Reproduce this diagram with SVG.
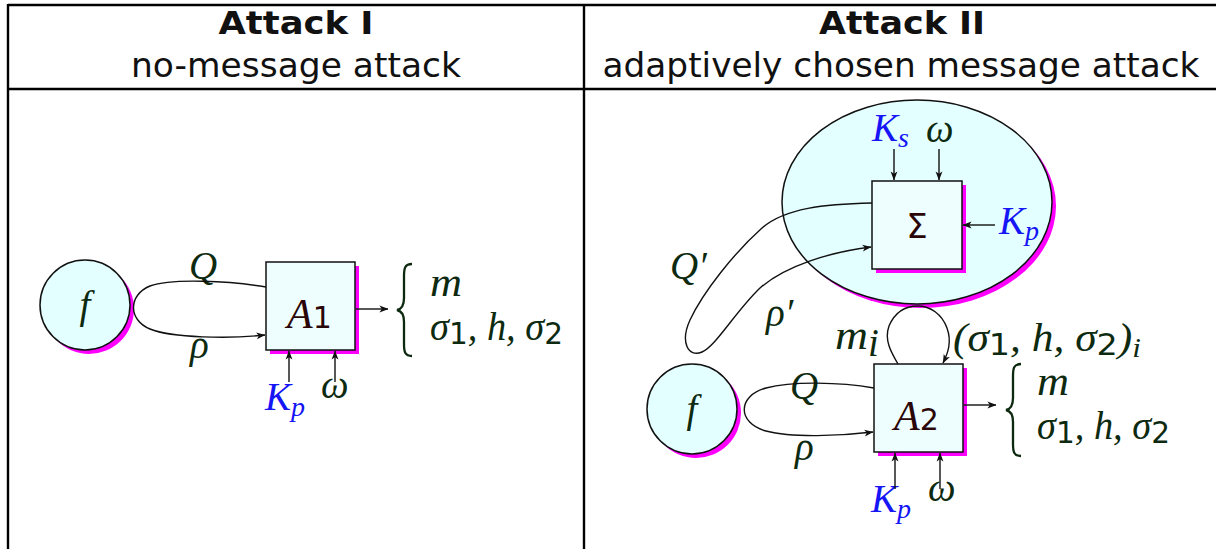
<svg xmlns="http://www.w3.org/2000/svg" width="1216" height="549" viewBox="0 0 1216 549">
  <defs>
    <marker id="arr" viewBox="0 0 10 10" refX="9.5" refY="5" markerWidth="9" markerHeight="9" markerUnits="userSpaceOnUse" orient="auto">
      <path d="M0,1.2 L10,5 L0,8.8 L2.6,5 Z" fill="#111"/>
    </marker>
  </defs>
  <style>
    .grid { stroke: #000; stroke-width: 2.4; fill: none; }
    .hdr { font-family: "DejaVu Sans", "Liberation Sans", sans-serif; fill: #111; }
    .hdrb { font-weight: bold; }
    .shadow { fill: #ff00ff; }
    .node { fill: #e4ffff; stroke: #111; stroke-width: 1.5; }
    .box { fill: #eefefe; stroke: #111; stroke-width: 1.5; }
    .wire { fill: none; stroke: #111; stroke-width: 1.4; }
    .m { font-family: "Liberation Serif", "DejaVu Serif", serif; font-style: italic; fill: #0d2a10; font-size: 39px; }
    .blue { fill: #1515f5; }
    .op { font-family: "Liberation Serif", "DejaVu Serif", serif; font-style: italic; fill: #2a0608; font-size: 42px; }
    .d { font-family: "DejaVu Sans", "Liberation Sans", sans-serif; font-style: normal; }
    .brace { fill: none; stroke: #0d2a10; stroke-width: 2.3; }
  </style>

  <!-- table frame -->
  <g id="table">
    <line class="grid" x1="8" y1="5" x2="1216" y2="5"/>
    <line class="grid" x1="8" y1="89" x2="1216" y2="89"/>
    <line class="grid" x1="8" y1="4" x2="8" y2="549"/>
    <line class="grid" x1="584" y1="4" x2="584" y2="549"/>
    <text class="hdr hdrb" x="296" y="34" font-size="32" text-anchor="middle" textLength="155" lengthAdjust="spacingAndGlyphs">Attack I</text>
    <text class="hdr" x="296" y="77" font-size="33" text-anchor="middle" textLength="330" lengthAdjust="spacingAndGlyphs">no-message attack</text>
    <text class="hdr hdrb" x="902" y="34" font-size="32" text-anchor="middle" textLength="166" lengthAdjust="spacingAndGlyphs">Attack II</text>
    <text class="hdr" x="901" y="77" font-size="33" text-anchor="middle" textLength="597" lengthAdjust="spacingAndGlyphs">adaptively chosen message attack</text>
  </g>

  <!-- Attack I -->
  <g id="f1">
    <circle class="shadow" cx="89" cy="309" r="45"/>
    <circle class="node" cx="85" cy="305" r="45"/>
    <text class="m" x="85" y="318" text-anchor="middle">f</text>
  </g>
  <g id="A1">
    <rect class="shadow" x="270" y="266" width="89" height="88"/>
    <rect class="box" x="266" y="262" width="89" height="88"/>
    <text class="op" x="287" y="328">A<tspan class="d" font-size="30">1</tspan></text>
  </g>
  <g id="out1">
    <path class="brace" d="M412,264 C405,264 404,268 404,276 L404,298 C404,305 402,309 397,310 C402,311 404,315 404,322 L404,344 C404,352 405,356 412,356"/>
    <text class="m" x="430" y="296" textLength="32" lengthAdjust="spacingAndGlyphs">m</text>
    <text class="m" x="430" y="340" textLength="133" lengthAdjust="spacingAndGlyphs">σ<tspan class="d" font-size="30" dy="4">1</tspan><tspan dy="-4">, h, σ</tspan><tspan class="d" font-size="30" dy="4">2</tspan></text>
  </g>
  <g id="labels1">
    <text class="m" x="189" y="279" font-size="42">Q</text>
    <text class="m" x="190" y="358">ρ</text>
    <text class="m blue" x="265" y="410">K<tspan font-size="28" dy="6">p</tspan></text>
    <text class="m" x="321" y="398">ω</text>
  </g>

  <!-- Attack II -->
  <g id="signer">
    <ellipse class="shadow" cx="921" cy="206" rx="135" ry="102"/>
    <ellipse class="node" cx="917" cy="202" rx="135" ry="102"/>
    <text class="m blue" x="872" y="141">K<tspan font-size="28" dy="6">s</tspan></text>
    <text class="m" x="926" y="142">ω</text>
    <text class="m blue" x="999" y="234">K<tspan font-size="28" dy="6">p</tspan></text>
  </g>
  <g id="Sigma">
    <rect class="shadow" x="876" y="185" width="90" height="88"/>
    <rect class="box" x="872" y="181" width="90" height="88" fill="#f2ffff"/>
    <text x="917" y="238" text-anchor="middle" font-family="DejaVu Sans, sans-serif" font-size="34" fill="#2a0608">Σ</text>
  </g>
  <g id="f2">
    <circle class="shadow" cx="696" cy="413" r="45"/>
    <circle class="node" cx="692" cy="409" r="45"/>
    <text class="m" x="692" y="422" text-anchor="middle">f</text>
  </g>
  <g id="A2">
    <rect class="shadow" x="878" y="368" width="89" height="88"/>
    <rect class="box" x="874" y="364" width="89" height="88"/>
    <text class="op" x="894" y="430">A<tspan class="d" font-size="30">2</tspan></text>
  </g>
  <g id="out2">
    <path class="brace" d="M1021,364 C1014,364 1013,368 1013,376 L1013,398 C1013,405 1011,409 1006,410 C1011,411 1013,415 1013,422 L1013,444 C1013,452 1014,456 1021,456"/>
    <text class="m" x="1037" y="395" textLength="32" lengthAdjust="spacingAndGlyphs">m</text>
    <text class="m" x="1037" y="439" textLength="133" lengthAdjust="spacingAndGlyphs">σ<tspan class="d" font-size="30" dy="4">1</tspan><tspan dy="-4">, h, σ</tspan><tspan class="d" font-size="30" dy="4">2</tspan></text>
  </g>
  <g id="labels2">
    <text class="m" x="670" y="279" font-size="42">Q′</text>
    <text class="m" x="766" y="326">ρ′</text>
    <text class="m" x="835" y="349" textLength="33" lengthAdjust="spacingAndGlyphs">m</text>
    <text class="m" x="868" y="356" font-size="25">i</text>
    <text class="m" x="953" y="351" textLength="188" lengthAdjust="spacingAndGlyphs">(σ<tspan class="d" font-size="30" dy="4">1</tspan><tspan dy="-4">, h, σ</tspan><tspan class="d" font-size="30" dy="4">2</tspan><tspan dy="-4">)</tspan><tspan font-size="28" dy="6">i</tspan></text>
    <text class="m" x="790" y="399" font-size="42">Q</text>
    <text class="m" x="795" y="460">ρ</text>
    <text class="m blue" x="871" y="512">K<tspan font-size="28" dy="6">p</tspan></text>
    <text class="m" x="928" y="501">ω</text>
  </g>

  <!-- connectors -->
  <g id="connectors">
    <!-- Attack I -->
    <path class="wire" d="M266,287 C230,281 172,278 150,286 C128,295 128,320 150,329 C172,338 230,339 265,335" marker-end="url(#arr)"/>
    <line class="wire" x1="356" y1="309" x2="388" y2="309" marker-end="url(#arr)"/>
    <line class="wire" x1="289" y1="382" x2="289" y2="351" marker-end="url(#arr)"/>
    <line class="wire" x1="335" y1="382" x2="335" y2="351" marker-end="url(#arr)"/>
    <!-- Attack II -->
    <line class="wire" x1="894" y1="149" x2="894" y2="180" marker-end="url(#arr)"/>
    <line class="wire" x1="939" y1="149" x2="939" y2="180" marker-end="url(#arr)"/>
    <line class="wire" x1="995" y1="225" x2="963" y2="225" marker-end="url(#arr)"/>
    <path class="wire" d="M872,203 C825,204 785,208 762,228 C735,252 703,292 690,320 C680,342 688,358 702,352 C716,346 735,312 760,288 C785,266 830,252 871,247" marker-end="url(#arr)"/>
    <path class="wire" d="M898,364 C891,352 884,340 889,326 C895,312 906,306 918,306 C930,306 942,314 947,328 C952,342 948,353 943,363" marker-end="url(#arr)"/>
    <path class="wire" d="M874,388 C840,382 792,381 766,388 C737,396 737,423 766,431 C792,438 840,436 873,432" marker-end="url(#arr)"/>
    <line class="wire" x1="964" y1="405" x2="996" y2="405" marker-end="url(#arr)"/>
    <line class="wire" x1="895" y1="489" x2="895" y2="453" marker-end="url(#arr)"/>
    <line class="wire" x1="940" y1="489" x2="940" y2="453" marker-end="url(#arr)"/>
  </g>
</svg>
